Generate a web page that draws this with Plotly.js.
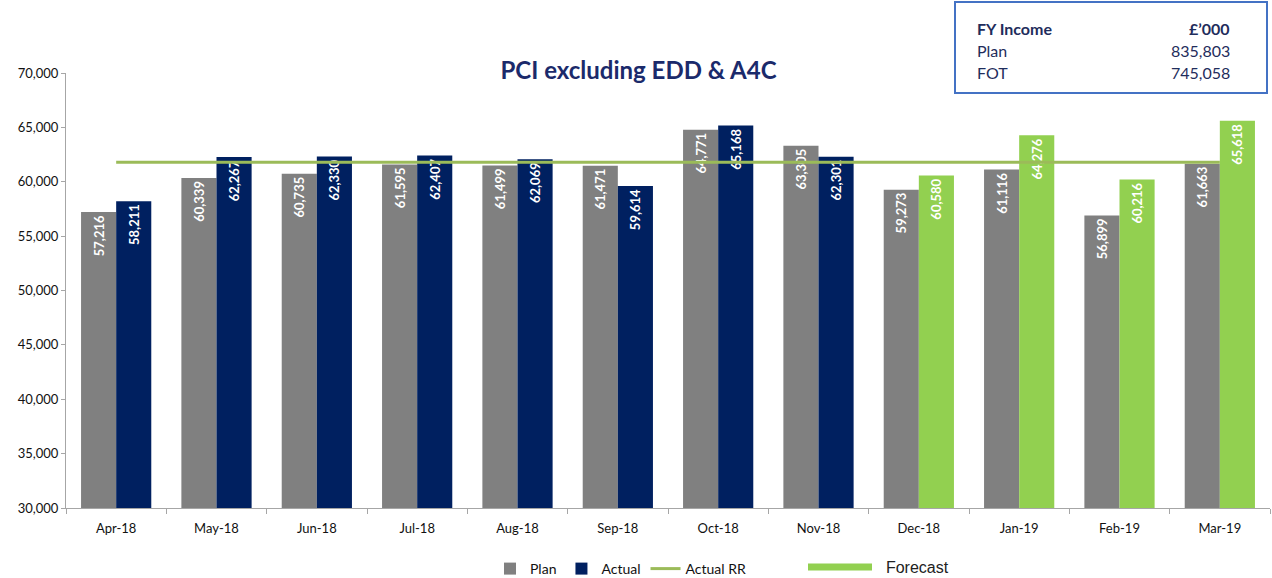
<!DOCTYPE html>
<html>
<head>
<meta charset="utf-8">
<script src="https://cdn.plot.ly/plotly-3.0.1.min.js"></script>
<style>html,body{margin:0;padding:0;background:#fff;}#chart{width:1272px;height:578px;}</style>
</head>
<body>
<div id="chart"></div>
<script>
const months = ['Apr-18','May-18','Jun-18','Jul-18','Aug-18','Sep-18','Oct-18','Nov-18','Dec-18','Jan-19','Feb-19','Mar-19'];
const plan = [57216, 60339, 60735, 61595, 61499, 61471, 64771, 63305, 59273, 61116, 56899, 61663];
const actualMonths = ['Apr-18','May-18','Jun-18','Jul-18','Aug-18','Sep-18','Oct-18','Nov-18'];
const actual = [58211, 62267, 62330, 62407, 62069, 59614, 65168, 62301];
const forecastMonths = ['Dec-18','Jan-19','Feb-19','Mar-19'];
const forecast = [60580, 64276, 60216, 65618];
const actualRR = 61796;
const rrMonths = ['Apr-18','Mar-19'];
const rrValues = [actualRR, actualRR];
const tableRows = [['FY Income', '£’000'], ['Plan', '835,803'], ['FOT', '745,058']];

const FONT = 'Lato, "Open Sans", sans-serif';
const labelFont = {family: FONT, size: 13, color: '#ffffff', weight: 'bold'};

function barTrace(name, x, y, color, group) {
  return {
    type: 'bar', name: name, x: x, y: y, offsetgroup: group,
    marker: {color: color},
    texttemplate: '<b>%{y:,}</b>', textposition: 'inside', insidetextanchor: 'end',
    textangle: -90, insidetextfont: labelFont, constraintext: 'none',
    hoverinfo: 'x+y'
  };
}

const forecastBars = barTrace('Forecast', forecastMonths, forecast, '#92D050', 'a');
forecastBars.showlegend = false;

const traces = [
  barTrace('Plan', months, plan, '#808080', 'p'),
  barTrace('Actual', actualMonths, actual, '#002060', 'a'),
  {type: 'scatter', mode: 'lines', name: 'Actual RR', x: rrMonths, y: rrValues,
   line: {color: '#9BBB59', width: 3}},
  forecastBars,
  {type: 'scatter', mode: 'lines', name: '&nbsp;&nbsp;Forecast', x: [null], y: [null], legend: 'legend2',
   line: {color: '#92D050', width: 7}, hoverinfo: 'skip'}
];

const annotations = [];
const rowY = [28, 50, 72];
tableRows.forEach((r, i) => {
  const bold = i === 0;
  annotations.push({xref: 'paper', yref: 'paper', x: (975 - 66) / 1204, y: 1 - (rowY[i] - 73) / 435,
    xanchor: 'left', yanchor: 'middle', showarrow: false, text: bold ? '<b>' + r[0] + '</b>' : r[0],
    font: {family: FONT, size: 16, color: '#1F2D5C'}});
  annotations.push({xref: 'paper', yref: 'paper', x: (1232 - 66) / 1204, y: 1 - (rowY[i] - 73) / 435,
    xanchor: 'right', yanchor: 'middle', showarrow: false, text: bold ? '<b>' + r[1] + '</b>' : r[1],
    font: {family: FONT, size: 16, color: '#1F2D5C'}});
});

const layout = {
  width: 1272, height: 578,
  margin: {l: 66, r: 2, t: 73, b: 70},
  paper_bgcolor: '#ffffff', plot_bgcolor: '#ffffff',
  font: {family: FONT, size: 12, color: '#111111'},
  title: {text: '<b>PCI excluding EDD & A4C</b>', x: 0.502, xref: 'container', y: 1 - 71 / 578, yanchor: 'middle',
    font: {family: FONT, size: 24, color: '#1B2A6B'}},
  barmode: 'group', bargap: 0.3, bargroupgap: 0,
  showlegend: true,
  legend: {orientation: 'h', xref: 'container', yref: 'container', x: 490 / 1272, xanchor: 'left',
    y: 1 - 569 / 578, yanchor: 'middle', itemwidth: 30,
    font: {family: FONT, size: 14, color: '#111111'}, traceorder: 'normal'},
  legend2: {orientation: 'h', xref: 'container', yref: 'container', x: 803 / 1272, xanchor: 'left',
    y: 1 - 567 / 578, yanchor: 'middle', itemwidth: 64,
    font: {family: '"Liberation Sans", Arial, sans-serif', size: 16, color: '#222222'}},
  xaxis: {type: 'category', categoryorder: 'array', categoryarray: months,
    showline: true, linecolor: '#A6A6A6', linewidth: 1,
    ticks: 'outside', tickson: 'boundaries', ticklen: 5, tickcolor: '#A6A6A6',
    ticklabelstandoff: 8,
    showgrid: false, tickfont: {family: FONT, size: 13, color: '#111111'}},
  yaxis: {range: [30000, 70000], dtick: 5000, tickformat: ',', showline: true, linecolor: '#A6A6A6',
    ticks: 'outside', ticklen: 4, tickcolor: '#A6A6A6', showgrid: false, zeroline: false,
    tickfont: {family: FONT, size: 13, color: '#111111'}},
  shapes: [{type: 'rect', xref: 'paper', yref: 'paper',
    x0: (955 - 66) / 1204, x1: (1267 - 66) / 1204, y0: 1 - (93 - 73) / 435, y1: 1 - (2 - 73) / 435,
    line: {color: '#4472C4', width: 2}, fillcolor: 'rgba(0,0,0,0)'}],
  annotations: annotations
};

Plotly.newPlot('chart', traces, layout, {displayModeBar: false, staticPlot: true});
</script>
</body>
</html>
